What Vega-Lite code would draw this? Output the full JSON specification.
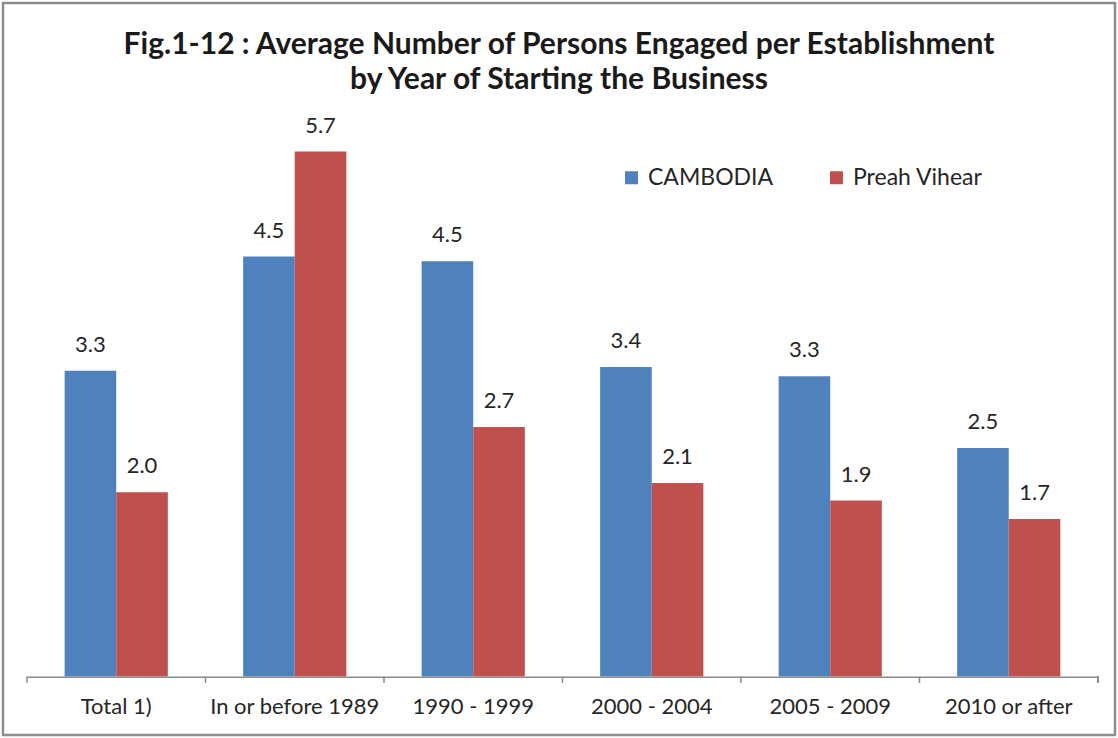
{
  "$schema": "https://vega.github.io/schema/vega-lite/v6.json",
  "autosize": {"type": "none"},
  "width": 1112,
  "height": 732,
  "padding": {"left": 3, "top": 3, "right": 3, "bottom": 3},
  "background": "white",
  "title": {
    "text": ["Fig.1-12 : Average Number of Persons Engaged per Establishment", "by Year of Starting the Business"],
    "font": "Lato",
    "fontSize": 30,
    "fontWeight": "bold",
    "lineHeight": 35,
    "color": "#1a1a1a",
    "anchor": "middle",
    "offset": -92
  },
  "config": {
    "view": {"stroke": "#8c8c8c", "strokeWidth": 2.5},
    "axisY": {"disable": true},
    "text": {"font": "Lato"}
  },
  "datasets": {
    "bars": [
      {"cat": "Total 1)", "series": "CAMBODIA", "value": 3.32, "label": "3.3"},
      {"cat": "Total 1)", "series": "Preah Vihear", "value": 2.0, "label": "2.0"},
      {"cat": "In or before 1989", "series": "CAMBODIA", "value": 4.56, "label": "4.5"},
      {"cat": "In or before 1989", "series": "Preah Vihear", "value": 5.7, "label": "5.7"},
      {"cat": "1990 - 1999", "series": "CAMBODIA", "value": 4.51, "label": "4.5"},
      {"cat": "1990 - 1999", "series": "Preah Vihear", "value": 2.71, "label": "2.7"},
      {"cat": "2000 - 2004", "series": "CAMBODIA", "value": 3.36, "label": "3.4"},
      {"cat": "2000 - 2004", "series": "Preah Vihear", "value": 2.1, "label": "2.1"},
      {"cat": "2005 - 2009", "series": "CAMBODIA", "value": 3.26, "label": "3.3"},
      {"cat": "2005 - 2009", "series": "Preah Vihear", "value": 1.91, "label": "1.9"},
      {"cat": "2010 or after", "series": "CAMBODIA", "value": 2.48, "label": "2.5"},
      {"cat": "2010 or after", "series": "Preah Vihear", "value": 1.71, "label": "1.7"}
    ],
    "cats": [
      {"cat": "Total 1)"},
      {"cat": "In or before 1989"},
      {"cat": "1990 - 1999"},
      {"cat": "2000 - 2004"},
      {"cat": "2005 - 2009"},
      {"cat": "2010 or after"}
    ]
  },
  "layer": [
    {
      "data": {"name": "bars"},
      "mark": {"type": "bar"},
      "encoding": {
        "x": {
          "field": "cat",
          "type": "nominal",
          "scale": {
            "domain": ["Total 1)", "In or before 1989", "1990 - 1999", "2000 - 2004", "2005 - 2009", "2010 or after"],
            "paddingInner": 0,
            "paddingOuter": 0.1148,
            "align": 0.585
          },
          "axis": {
            "title": null,
            "domain": false,
            "ticks": false,
            "tickSize": 0,
            "labelAngle": 0,
            "labelFont": "Lato",
            "labelFontSize": 22,
            "labelColor": "#262626",
            "labelPadding": 20,
            "labelLimit": 300,
            "offset": -58.5,
            "grid": false
          }
        },
        "xOffset": {
          "field": "series",
          "type": "nominal",
          "scale": {"paddingInner": 0, "paddingOuter": 0.73}
        },
        "y": {
          "field": "value",
          "type": "quantitative",
          "scale": {"domain": [-0.635, 7.313], "nice": false, "zero": false},
          "axis": null
        },
        "color": {
          "field": "series",
          "type": "nominal",
          "scale": {"domain": ["CAMBODIA", "Preah Vihear"], "range": ["#4F81BD", "#C0504D"]},
          "legend": {
            "title": null,
            "orient": "none",
            "legendX": 617,
            "legendY": 163,
            "direction": "horizontal",
            "symbolType": "square",
            "symbolSize": 169,
            "symbolStrokeWidth": 0,
            "labelFont": "Lato",
            "labelFontSize": 23,
            "labelColor": "#262626",
            "labelOffset": 5,
            "labelLimit": 300,
            "columnPadding": 51,
            "padding": 0
          }
        }
      }
    },
    {
      "data": {"name": "bars"},
      "mark": {"type": "text", "baseline": "bottom", "dy": -14, "fontSize": 22, "font": "Lato", "color": "#262626"},
      "encoding": {
        "x": {"field": "cat", "type": "nominal"},
        "xOffset": {"field": "series", "type": "nominal"},
        "y": {"field": "value", "type": "quantitative"},
        "text": {"field": "label"}
      }
    },
    {
      "data": {"name": "cats"},
      "mark": {"type": "bar", "color": "#8a8a8a"},
      "encoding": {
        "x": {"field": "cat", "type": "nominal"},
        "y": {"datum": 0},
        "y2": {"datum": -0.016}
      }
    },
    {
      "data": {"name": "cats"},
      "mark": {"type": "rule", "color": "#8a8a8a", "strokeWidth": 1.5},
      "encoding": {
        "x": {"field": "cat", "type": "nominal", "bandPosition": 0},
        "y": {"datum": 0},
        "y2": {"datum": -0.07}
      }
    },
    {
      "data": {"name": "cats"},
      "mark": {"type": "rule", "color": "#8a8a8a", "strokeWidth": 1.5},
      "encoding": {
        "x": {"datum": "2010 or after", "type": "nominal", "bandPosition": 1},
        "y": {"datum": 0},
        "y2": {"datum": -0.07}
      }
    }
  ]
}
